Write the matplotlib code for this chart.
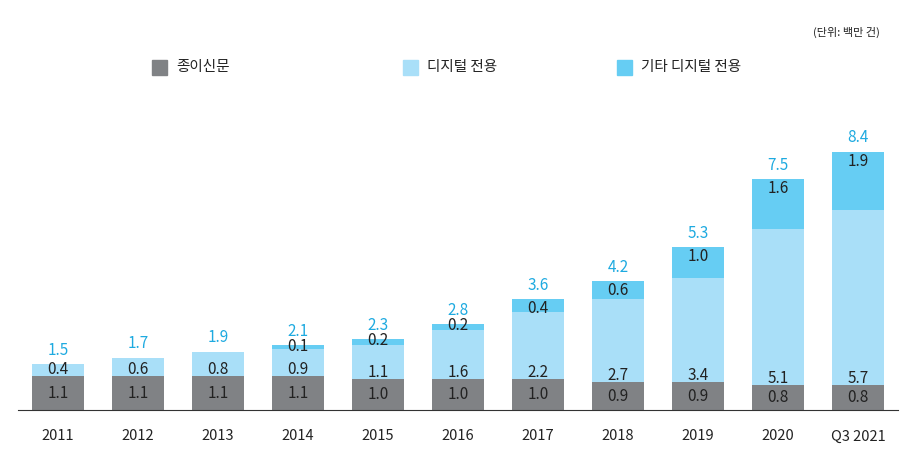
import matplotlib
matplotlib.use("Agg")
import matplotlib.pyplot as plt

plt.rcParams['font.family'] = ['Noto Sans CJK KR', 'DejaVu Sans']

years = ["2011","2012","2013","2014","2015","2016","2017","2018","2019","2020","Q3 2021"]
paper = [1.1,1.1,1.1,1.1,1.0,1.0,1.0,0.9,0.9,0.8,0.8]
digital = [0.4,0.6,0.8,0.9,1.1,1.6,2.2,2.7,3.4,5.1,5.7]
other = [0,0,0,0.1,0.2,0.2,0.4,0.6,1.0,1.6,1.9]
totals = [1.5,1.7,1.9,2.1,2.3,2.8,3.6,4.2,5.3,7.5,8.4]
series_names = ["종이신문", "디지털 전용", "기타 디지털 전용"]

c_paper, c_dig, c_oth, c_tot = "#808285", "#a9dff8", "#66cdf3", "#1eaae0"

fig = plt.figure(figsize=(9.10, 4.67), dpi=100)
ax = fig.add_axes([18/910, 1-410/467, 880/910, 292/467])
x = range(len(years))
w = 0.65
ax.bar(x, paper, w, color=c_paper)
ax.bar(x, digital, w, bottom=paper, color=c_dig)
bot2 = [p+d for p, d in zip(paper, digital)]
ax.bar(x, other, w, bottom=bot2, color=c_oth)
for i in x:
    ax.text(i, paper[i]/2, f"{paper[i]:.1f}", ha='center', va='center', fontsize=11, color='#222222')
    ax.text(i, paper[i]+0.22, f"{digital[i]:.1f}", ha='center', va='center', fontsize=11, color='#222222')
    if other[i] > 0:
        ax.text(i, bot2[i]+other[i]-0.3 if other[i] > 0.3 else bot2[i]+other[i]-0.05,
                f"{other[i]:.1f}", ha='center', va='center', fontsize=11, color='#222222')
    ax.text(i, totals[i]+0.45, f"{totals[i]:.1f}", ha='center', va='center', fontsize=11, color=c_tot)
ax.set_xlim(-0.5, 10.5)
ax.set_ylim(0, 9.5)
ax.set_yticks([])
ax.set_xticks(list(x))
ax.set_xticklabels(years, fontsize=10.5, color='#222222')
ax.tick_params(axis='x', length=0, pad=14)
for s in ['top', 'right', 'left']:
    ax.spines[s].set_visible(False)
ax.spines['bottom'].set_color('#333333')

for xp, col, name in [(152, c_paper, series_names[0]), (403, c_dig, series_names[1]), (617, c_oth, series_names[2])]:
    fig.patches.append(plt.Rectangle((xp/910, 1-75/467), 15/910, 15/467, color=col, transform=fig.transFigure))
    fig.text((xp+24)/910, 1-67/467, name, fontsize=10.5, va='center', color='#222222')
fig.text(880/910, 1-32/467, "(단위: 백만 건)", fontsize=8, ha='right', va='center', color='#222222')
fig.savefig("out.png", dpi=100)
